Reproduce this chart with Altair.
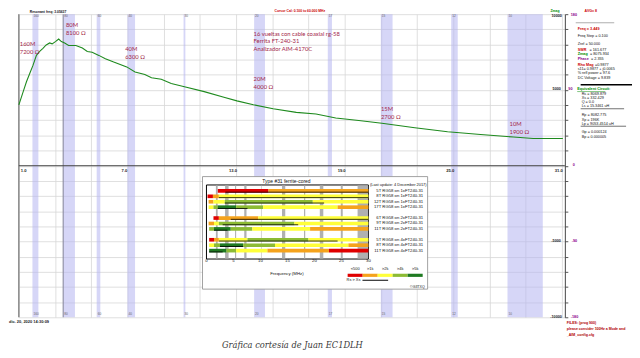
import altair as alt
import pandas as pd

# ---------------- data ----------------
freq_mhz = [1.0, 1.24, 1.42, 1.60, 1.78, 1.97, 2.15, 2.33, 2.51, 2.70, 2.84, 3.02, 3.20, 3.35,
            3.53, 3.75, 4.15, 4.51, 4.78, 5.05, 5.42, 5.78, 6.24, 6.96, 7.42, 7.96, 8.33, 8.87,
            9.42, 10.15, 11.24, 12.33, 13.05, 13.96, 15.05, 16.33, 17.42, 18.51, 19.78, 21.06,
            22.88, 24.69, 26.51, 28.33, 29.42, 31.06]
zmag_ohm = [4020, 4890, 5540, 6080, 6620, 7280, 7540, 7750, 7970, 8100, 8040, 8190, 8360, 8190,
            8100, 7930, 7930, 7770, 7540, 7490, 7280, 7060, 6840, 6520, 6190, 6020, 5800, 5710,
            5430, 5210, 4890, 4520, 4280, 4020, 3760, 3520, 3410, 3150, 2980, 2800,
            2500, 2240, 2060, 1890, 1800, 1800]

band_names = ["160", "80", "60", "40", "30", "20", "17", "15", "12", "10"]
band_lo = [1.75, 3.45, 5.3, 7.0, 10.1, 14.0, 18.07, 21.0, 24.89, 28.0]
band_hi = [2.08, 4.1, 5.5, 7.42, 10.2, 14.6, 18.3, 21.65, 25.25, 29.95]

cursor_freq = [3.449]
x_grid = [1, 3, 5, 7, 9, 11, 13, 15, 17, 19, 21, 23, 25, 27, 29, 31]
x_labels = [1.0, 7.0, 13.0, 19.0, 25.0, 31.0]
y_grid = list(range(-10000, 10001, 1000))

inset_rows = ["5T RG58 on 1xFT240-31", "8T RG58 on 1xFT240-31", "12T RG58 on 1xFT240-31",
              "17T RG58 on 1xFT240-31", "6T RG58 on 2xFT240-31", "9T RG58 on 2xFT240-31",
              "11T RG58 on 2xFT240-31", "5T RG58 on 4xFT240-31", "8T RG58 on 4xFT240-31",
              "11T RG58 on 4xFT240-31"]
levels = ["<500", ">1k", ">2k", ">4k", ">5k"]
level_colors = ["#e00000", "#f5a31c", "#ffff3a", "#8cbb34", "#1f7a22"]

seg_row = [0, 0,
           1, 1, 1,
           2, 2, 2, 2,
           3, 3, 3, 3, 3, 3,
           4, 4, 4,
           5, 5, 5, 5,
           6, 6, 6, 6, 6,
           7, 7, 7, 7, 7,
           8, 8, 8, 8, 8, 8,
           9, 9, 9, 9, 9]
seg_start = [2.1, 11.5,
             0.2, 1.2, 2.3,
             0.4, 1.3, 3.4, 19.7,
             0.4, 1.3, 2.1, 5.5, 10.5, 24.3,
             1.3, 2.3, 9.6,
             0.4, 1.4, 2.3, 16.3,
             0.5, 1.4, 4.5, 8.5, 19.2,
             0.5, 1.4, 2.3, 7.6, 18.9,
             0.5, 1.4, 2.5, 6.8, 12.7, 26.3,
             0.5, 3.7, 5.5, 11.3, 22.7]
seg_end = [11.5, 30,
           1.2, 2.3, 30,
           1.3, 3.4, 19.7, 30,
           1.3, 2.1, 5.5, 10.5, 24.3, 30,
           2.3, 9.6, 30,
           1.4, 2.3, 16.3, 30,
           1.4, 4.5, 8.5, 19.2, 30,
           1.4, 2.3, 7.6, 18.9, 30,
           1.4, 2.5, 6.8, 12.7, 26.3, 30,
           3.7, 5.5, 11.3, 22.7, 30]
seg_level = [0, 1,
             0, 1, 2,
             1, 2, 3, 2,
             2, 3, 4, 3, 2, 1,
             0, 1, 2,
             1, 2, 3, 2,
             3, 4, 3, 2, 1,
             0, 1, 2, 3, 2,
             2, 3, 4, 3, 2, 1,
             4, 3, 2, 1, 0]

rsxs_row = [0, 1, 2, 3, 4, 5, 6, 7, 8, 9]
rsxs_start = [3.5, 2.3, 3.4, 2.1, 4.5, 3.0, 1.4, 2.3, 2.5, 0.5]
rsxs_end = [30, 30, 21.8, 7.6, 30, 17.0, 3.9, 24.3, 6.8, 3.0]

inset_ticks = [0, 5, 10, 15, 20, 25, 30]

# ---------------- layout helpers ----------------
W, H = 553, 307
X0, Y0 = 19, 12          # screen position of the plot origin
DUMMY = pd.DataFrame({"k": [0]})
FONT = "Liberation Sans"


def txt(s, sx, sy, color="#000000", size=4.0, align="left", weight="normal",
        font=FONT, style="normal"):
    return alt.Chart(DUMMY).mark_text(
        text=s, color=color, fontSize=size, align=align, baseline="middle",
        fontWeight=weight, font=font, fontStyle=style
    ).encode(x=alt.value(sx - X0), y=alt.value(sy - Y0))


def hline(sx1, sx2, sy, color, w):
    return alt.Chart(DUMMY).mark_rule(color=color, strokeWidth=w).encode(
        x=alt.value(sx1 - X0), x2=alt.value(sx2 - X0), y=alt.value(sy - Y0))


def box(sx1, sy1, sx2, sy2, fill, stroke, w):
    return alt.Chart(DUMMY).mark_rect(fill=fill, stroke=stroke, strokeWidth=w).encode(
        x=alt.value(sx1 - X0), x2=alt.value(sx2 - X0),
        y=alt.value(sy1 - Y0), y2=alt.value(sy2 - Y0))


# ---------------- main chart ----------------
XS = alt.Scale(domain=[1, 31.17], nice=False, zero=False)
YS = alt.Scale(domain=[-10000, 10000], nice=False, zero=False)
X_AX = alt.Axis(values=x_grid, grid=True, gridColor="#d6d6d6", gridWidth=0.8,
                labels=False, ticks=False, domain=False, title=None)
Y_AX = alt.Axis(orient="right", values=y_grid, grid=True, gridColor="#d6d6d6", gridWidth=0.8,
                labels=False, ticks=True, tickSize=3, tickColor="#555555",
                domain=True, domainColor="#444444", title=None)

bands_df = pd.DataFrame({"name": band_names, "lo": band_lo, "hi": band_hi})
curve_df = pd.DataFrame({"f": freq_mhz, "z": zmag_ohm})

bands = alt.Chart(bands_df).mark_rect(color="#b4b4f0", opacity=0.55).encode(
    x=alt.X("lo:Q", scale=XS, axis=X_AX), x2="hi:Q",
    y=alt.value(0), y2=alt.value(H))

band_top = alt.Chart(bands_df).mark_text(
    fontSize=3.2, color="#666666", align="left", baseline="middle", dx=1, font=FONT
).encode(x=alt.X("lo:Q", scale=XS, axis=X_AX), y=alt.value(13.4 - Y0), text="name:N")
band_bot = alt.Chart(bands_df).mark_text(
    fontSize=3.2, color="#666666", align="left", baseline="middle", dx=1, font=FONT
).encode(x=alt.X("lo:Q", scale=XS, axis=X_AX), y=alt.value(315.7 - Y0), text="name:N")

cursor = alt.Chart(pd.DataFrame({"f": cursor_freq})).mark_rule(
    color="#8a8aa0", strokeWidth=1.1).encode(
    x=alt.X("f:Q", scale=XS, axis=X_AX), y=alt.value(0), y2=alt.value(H))

left_axis = alt.Chart(DUMMY).mark_rule(color="#555555", strokeWidth=1).encode(
    x=alt.value(0), y=alt.value(0), y2=alt.value(H))
zero_line = alt.Chart(pd.DataFrame({"z": [0]})).mark_rule(color="#444444", strokeWidth=1).encode(
    y=alt.Y("z:Q", scale=YS, axis=Y_AX), x=alt.value(0), x2=alt.value(W))

xlab_df = pd.DataFrame({"f": x_labels, "t": [f"{v:.1f}" for v in x_labels]})
xlabel_first = alt.Chart(xlab_df.iloc[:1]).mark_text(
    fontSize=4.2, color="#222222", baseline="middle", align="left", font=FONT,
    fontWeight="bold", dx=2
).encode(x=alt.X("f:Q", scale=XS, axis=X_AX), y=alt.value(170.5 - Y0), text="t:N")
xlabels = alt.Chart(xlab_df.iloc[1:]).mark_text(
    fontSize=4.2, color="#222222", baseline="middle", font=FONT, fontWeight="bold", dx=-3
).encode(x=alt.X("f:Q", scale=XS, axis=X_AX), y=alt.value(170.5 - Y0), text="t:N")

curve = alt.Chart(curve_df).mark_line(color="#1e8a1e", strokeWidth=1.1).encode(
    x=alt.X("f:Q", scale=XS, axis=X_AX), y=alt.Y("z:Q", scale=YS, axis=Y_AX))

ANN = "#a3284a"
AF = "Lato"
ann = [
    txt("160M", 20, 42.7, ANN, 5.9, font=AF), txt("7200 Ω", 20, 50.3, ANN, 5.9, font=AF),
    txt("80M", 66.7, 23.3, ANN, 5.9, font=AF), txt("8100 Ω", 66.7, 30.9, ANN, 5.9, font=AF),
    txt("40M", 126.7, 47.7, ANN, 5.9, font=AF), txt("6300 Ω", 126.7, 55.8, ANN, 5.9, font=AF),
    txt("16 vueltas con cable coaxial rg-58", 256.7, 31.7, ANN, 5.9, font=AF),
    txt("Ferrita FT-240-31", 256.7, 39.4, ANN, 5.9, font=AF),
    txt("Analizador AIM-4170C", 256.7, 47.2, ANN, 5.9, font=AF),
    txt("20M", 256.7, 77.7, ANN, 5.9, font=AF), txt("4000 Ω", 256.7, 85.3, ANN, 5.9, font=AF),
    txt("15M", 385.7, 108.3, ANN, 5.9, font=AF), txt("2700 Ω", 385.7, 116, ANN, 5.9, font=AF),
    txt("10M", 516, 123.3, ANN, 5.9, font=AF), txt("1900 Ω", 516, 131.7, ANN, 5.9, font=AF),
]

RED, GRN, PUR = "#cc0000", "#008a00", "#8a008a"
B = "bold"
S = 3.8
panel = [
    txt("Resonant freq:   3.05637", 30, 9.4, "#111111", 3.4, weight=B),
    txt("Cursor Cal:  0.100 to 60.000 MHz", 278, 9.3, RED, 3.4, weight=B),
    txt("AVG=  8", 592, 9.3, RED, 3.6, weight=B),
    txt("Zmag", 562, 9.2, GRN, 3.4, align="center", weight=B),
    # right axis labels
    txt("10000", 569, 14, "#222222", 3.8, align="right", weight=B),
    txt("5000", 568, 88, "#222222", 3.8, align="right", weight=B),
    txt("-5000", 568, 242, "#222222", 3.8, align="right", weight=B),
    txt("-10000", 569, 319, "#222222", 3.8, align="right", weight=B),
    txt("180", 578, 12.5, PUR, 3.8, weight=B),
    txt("90", 575.5, 88, PUR, 3.8, weight=B),
    txt("0", 580, 164.5, PUR, 3.8, weight=B),
    txt("-90", 579, 242, PUR, 3.8, weight=B),
    txt("-180", 578, 319, PUR, 3.8, weight=B),
    # info panel
    hline(583, 622, 20.7, "#999999", 0.8),
    txt("Freq = 3.449", 585, 26.7, RED, S, weight=B),
    txt("Freq Step = 0.100", 585, 34.3, "#111111", S),
    txt("Zref =    50.000", 585, 42.3, "#111111", S),
    txt("SWR", 585, 48.2, RED, S, weight=B),
    txt("= 161.677", 597, 48.2, "#111111", S),
    txt("Zmag", 585, 52.6, GRN, S, weight=B),
    txt("= 8075.934", 597.5, 52.6, "#111111", S),
    txt("Phase", 585, 57, PUR, S, weight=B),
    txt("=     2.355", 598.5, 57, "#111111", S),
    txt("Rho Mag", 585, 63.3, RED, S, weight=B),
    txt("=0.9877", 602.5, 63.3, "#111111", S),
    txt("s11= 0.9877 + j0.0065", 585, 67.7, "#111111", S),
    txt("% refl power = 97.6", 585, 72, "#111111", S),
    txt("DC Voltage =  9.839", 585, 76.5, "#111111", S),
    hline(588, 640, 83.5, "#000000", 1.3),
    txt("Equivalent Circuit:", 584.5, 88.2, GRN, S, weight=B),
    hline(584.5, 613, 90.4, GRN, 0.5),
    txt("Rs =  8069.879", 589, 92.8, "#111111", S),
    txt("Xs =  332.429", 589, 96.9, "#111111", S),
    txt("Q =  0.0", 589, 101, "#111111", S),
    txt("Ls =   15.3461 uH", 589, 105.3, "#111111", S),
    hline(588, 632, 107.8, "#111111", 0.6),
    txt("Rp =  8082.775", 589, 114.3, "#111111", S),
    txt("Xp =  196K", 589, 118.7, "#111111", S),
    txt("Lp = 9053.4514  uH", 589, 123.1, "#111111", S),
    hline(588, 634, 125.5, "#111111", 0.6),
    txt("Gp =  0.000124", 589, 131.7, "#111111", S),
    txt("Bp =  0.000005", 589, 136.5, "#111111", S),
    # bottom texts
    txt("dic. 20, 2020  14:30:09", 9, 324, "#222222", 4.0, weight=B),
    txt("FILES:   (prog 900)", 574, 325, "#b00000", 3.6, weight=B),
    txt("please consider 100Hz a Mode and", 574, 330.8, "#b00000", 3.6, weight=B),
    txt("_AIM_config.cfg", 574, 336.6, "#b00000", 3.6, weight=B),
    txt("Gráfica cortesía de Juan EC1DLH", 296, 346.8, "#3a3a3a", 8.4,
        align="center", font="DejaVu Serif", style="italic"),
]

main = alt.layer(bands, cursor, left_axis, zero_line, band_top, band_bot, xlabel_first,
                 xlabels, curve, *ann, *panel)

# ---------------- inset (ferrite chart) ----------------
row_domain = inset_rows[:4] + ["gap1"] + inset_rows[4:7] + ["gap2"] + inset_rows[7:]
IXS = alt.Scale(domain=[0, 30], range=[209 - X0, 373 - X0], nice=False, zero=False)
IYS = alt.Scale(type="point", domain=row_domain, range=[191 - Y0, 251.5 - Y0], padding=0)
COL = alt.Scale(domain=levels, range=level_colors)

seg_df = pd.DataFrame({
    "row": [inset_rows[i] for i in seg_row], "s": seg_start, "e": seg_end,
    "lvl": [levels[i] for i in seg_level]})
rs_df = pd.DataFrame({"row": [inset_rows[i] for i in rsxs_row], "s": rsxs_start, "e": rsxs_end})
rowlab_df = pd.DataFrame({"row": inset_rows})
itick_df = pd.DataFrame({"v": inset_ticks})
iband_df = pd.DataFrame({"lo": band_lo, "hi": band_hi})

outer_box = box(205, 176.5, 433, 290.5, "#ffffff", "#8a8a8a", 0.8)
plot_box = box(209, 185, 373, 260, "#ffffff", "#000000", 1.0)
iband = alt.Chart(iband_df).mark_rect(color="#b0b0b0").encode(
    x=alt.X("lo:Q", scale=IXS, axis=None), x2="hi:Q",
    y=alt.value(185.5 - Y0), y2=alt.value(259.5 - Y0))
bars = alt.Chart(seg_df).mark_bar(height=3.7).encode(
    x=alt.X("s:Q", scale=IXS, axis=None), x2="e:Q",
    y=alt.Y("row:N", scale=IYS, axis=None, sort=row_domain),
    color=alt.Color("lvl:N", scale=COL, legend=None))
rsline = alt.Chart(rs_df).mark_rule(color="#000000", strokeWidth=0.8, yOffset=1.3).encode(
    x=alt.X("s:Q", scale=IXS, axis=None), x2="e:Q",
    y=alt.Y("row:N", scale=IYS, axis=None, sort=row_domain))
rowlabs = alt.Chart(rowlab_df).mark_text(
    fontSize=4.3, align="right", baseline="middle", color="#111111", font=FONT
).encode(x=alt.value(428.5 - X0), y=alt.Y("row:N", scale=IYS, axis=None, sort=row_domain),
         text="row:N")
iticks = alt.Chart(itick_df).mark_text(
    fontSize=4.3, baseline="middle", color="#111111", font=FONT
).encode(x=alt.X("v:Q", scale=IXS, axis=None), y=alt.value(262.5 - Y0), text="v:Q")

inset_text = [
    txt("Type #31 ferrite-cored", 290, 181, "#111111", 5.0, align="center"),
    txt("(Last update: 4 December 2017)", 432, 185.5, "#111111", 4.0, align="right"),
    txt("Frequency (MHz)", 290.5, 275, "#111111", 4.4, align="center"),
    txt("Rs > Xs", 365, 281.5, "#111111", 4.0, align="right"),
    hline(367, 393, 281.5, "#000000", 1.0),
    txt("©G3TXQ", 430, 288, "#111111", 3.6, align="right"),
]

inset = alt.layer(outer_box, plot_box, iband, bars, rsline, rowlabs, iticks, *inset_text)

# inset colour legend
leg_df = pd.DataFrame({"lvl": levels})
LXS = alt.Scale(type="band", domain=levels, range=[352 - X0, 428 - X0],
                paddingInner=0, paddingOuter=0)
leg_bar = alt.Chart(leg_df).mark_bar(height=3.2).encode(
    x=alt.X("lvl:N", scale=LXS, axis=None, sort=levels),
    y=alt.value(276.5 - Y0),
    color=alt.Color("lvl:N", scale=COL, legend=None))
leg_txt = alt.Chart(leg_df).mark_text(
    fontSize=4.0, baseline="middle", color="#111111", font=FONT
).encode(x=alt.X("lvl:N", scale=LXS, axis=None, sort=levels),
         y=alt.value(270.5 - Y0), text="lvl:N")
legend = alt.layer(leg_bar, leg_txt)

chart = alt.layer(main, inset, legend).resolve_scale(
    x="independent", y="independent"
).properties(
    width=W, height=H,
    padding={"left": 11, "top": 4, "right": 68, "bottom": 39},
    autosize=alt.AutoSizeParams(type="none"),
    background="#ffffff",
).configure_view(stroke=None)

chart.save("out.html", embed_options={"renderer": "svg", "actions": False})
